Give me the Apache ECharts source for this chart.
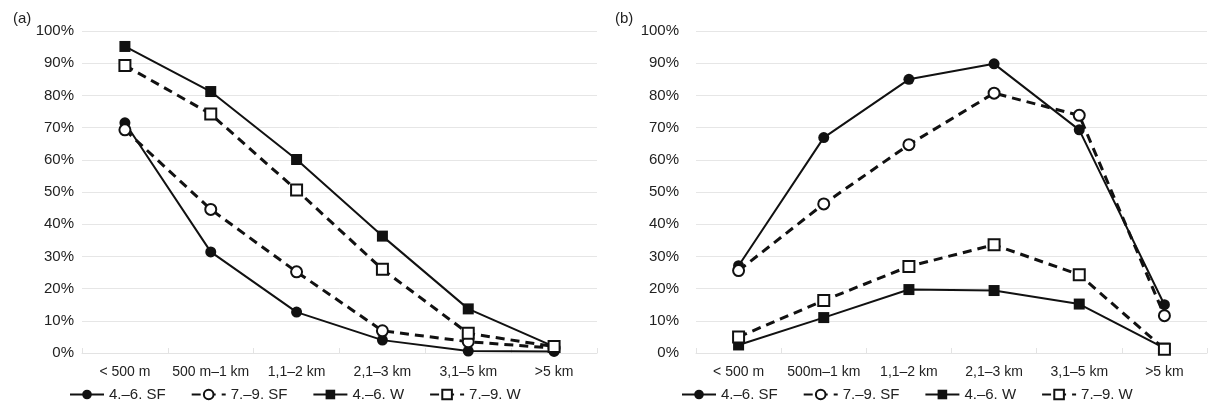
<!DOCTYPE html>
<html>
<head>
<meta charset="utf-8">
<script src="https://cdn.jsdelivr.net/npm/echarts@6/dist/echarts.min.js"></script>
<style>
  html, body { margin: 0; padding: 0; background: #fff; }
  #main { width: 1213px; height: 417px; }
</style>
</head>
<body>
<div id="main"></div>
<script>
// categories shared by both panels
var catsA = ["< 500 m", "500 m–1 km", "1,1–2 km", "2,1–3 km", "3,1–5 km", ">5 km"];
var catsB = ["< 500 m", "500m–1 km", "1,1–2 km", "2,1–3 km", "3,1–5 km", ">5 km"];
var seriesNames = ["4.–6. SF", "7.–9. SF", "4.–6. W", "7.–9. W"];

// panel (a) values, %
var sfSpringA = [71.5, 31.4, 12.7, 4.0, 0.6, 0.5];
var sfSummerA = [69.3, 44.6, 25.2, 6.9, 3.5, 1.5];
var wSpringA = [95.2, 81.2, 60.1, 36.3, 13.7, 2.0];
var wSummerA = [89.3, 74.2, 50.6, 26.0, 6.1, 2.0];

// panel (b) values, %
var sfSpringB = [27.1, 66.9, 85.0, 89.8, 69.3, 15.0];
var sfSummerB = [25.6, 46.3, 64.7, 80.7, 73.8, 11.6];
var wSpringB = [2.5, 11.0, 19.7, 19.4, 15.2, 1.5];
var wSummerB = [5.0, 16.3, 26.9, 33.6, 24.3, 1.2];

var font = "Liberation Sans, Arial, sans-serif";
var textColor = "#222";

var chart = echarts.init(document.getElementById("main"));

function mkSeries(name, data, idx, filled, square, dashed) {
	return {
		name: name,
		type: "line",
		xAxisIndex: idx,
		yAxisIndex: idx,
		data: data,
		symbol: square ? "rect" : "circle",
		symbolSize: 11,
		showSymbol: true,
		lineStyle: {
			color: "#111",
			width: dashed ? 3 : 2,
			type: dashed ? [9, 6] : "solid"
		},
		itemStyle: {
			color: filled ? "#111" : "#fff",
			borderColor: "#111",
			borderWidth: filled ? 0 : 2
		},
		emphasis: { disabled: true },
		z: filled ? 3 : 4
	};
}

function mkX(idx, cats, margin) {
	return {
		type: "category",
		gridIndex: idx,
		data: cats,
		boundaryGap: true,
		axisLine: { show: true, lineStyle: { color: "#e3e3e3", width: 1 } },
		axisTick: { show: true, inside: true, length: 5, interval: 0, lineStyle: { color: "#e3e3e3" } },
		axisLabel: { color: textColor, fontSize: 14, fontFamily: font, margin: margin, interval: 0 }
	};
}

function mkY(idx, margin) {
	return {
		type: "value",
		gridIndex: idx,
		min: 0,
		max: 100,
		interval: 10,
		axisLine: { show: false },
		axisTick: { show: false },
		splitLine: { lineStyle: { color: "#e6e6e6", width: 1 } },
		axisLabel: {
			color: textColor,
			fontSize: 15,
			fontFamily: font,
			margin: margin,
			formatter: "{value}%"
		}
	};
}

function mkLegend(left) {
	return {
		left: left,
		top: 382,
		itemWidth: 34,
		itemHeight: 12,
		itemGap: 25,
		data: seriesNames,
		selectedMode: false,
		textStyle: { color: textColor, fontSize: 15, fontFamily: font }
	};
}

var option = {
	animation: false,
	backgroundColor: "#fff",
	title: [
		{ text: "(a)", left: 8, top: 6, textStyle: { fontSize: 15, fontWeight: "normal", color: textColor, fontFamily: font } },
		{ text: "(b)", left: 610, top: 6, textStyle: { fontSize: 15, fontWeight: "normal", color: textColor, fontFamily: font } }
	],
	grid: [
		{ left: 82, right: 616, top: 31, bottom: 64 },
		{ left: 696, right: 6, top: 31, bottom: 64 }
	],
	legend: [mkLegend(64), mkLegend(676)],
	xAxis: [mkX(0, catsA, 12), mkX(1, catsB, 12)],
	yAxis: [mkY(0, 8), mkY(1, 17)],
	series: [
		mkSeries(seriesNames[0], sfSpringA, 0, true, false, false),
		mkSeries(seriesNames[1], sfSummerA, 0, false, false, true),
		mkSeries(seriesNames[2], wSpringA, 0, true, true, false),
		mkSeries(seriesNames[3], wSummerA, 0, false, true, true),
		mkSeries(seriesNames[0], sfSpringB, 1, true, false, false),
		mkSeries(seriesNames[1], sfSummerB, 1, false, false, true),
		mkSeries(seriesNames[2], wSpringB, 1, true, true, false),
		mkSeries(seriesNames[3], wSummerB, 1, false, true, true)
	]
};

chart.setOption(option);
</script>
</body>
</html>
